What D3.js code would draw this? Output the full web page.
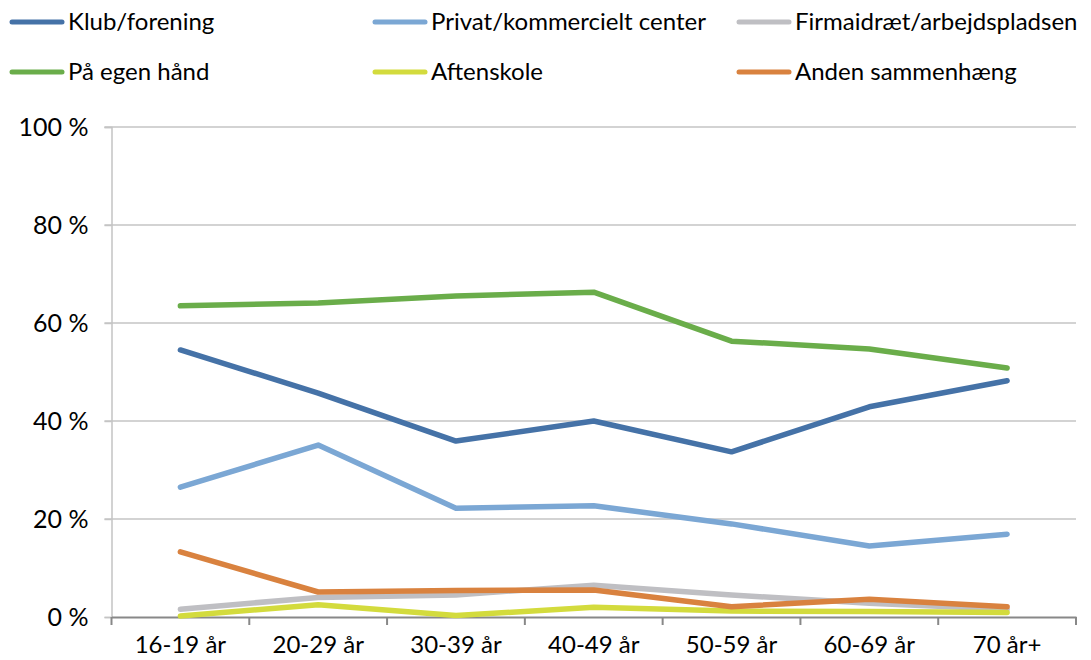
<!DOCTYPE html>
<html>
<head>
<meta charset="utf-8">
<script src="https://cdn.jsdelivr.net/npm/d3@7/dist/d3.min.js"></script>
<style>
  html, body { margin: 0; padding: 0; background: #fff; }
  svg text { font-family: Lato, "Open Sans", sans-serif; fill: #000; }
</style>
</head>
<body>
<svg id="chart" width="1091" height="660"></svg>
<script>
// Age groups along the x axis
const ageGroups = ["16-19 år", "20-29 år", "30-39 år", "40-49 år", "50-59 år", "60-69 år", "70 år+"];

// Share (%) per setting, one array per series
const klubForening      = [54.5, 45.7, 35.9, 40.0, 33.7, 42.9, 48.2];
const privatCenter      = [26.5, 35.1, 22.2, 22.7, 19.0, 14.5, 16.9];
const firmaidraet       = [1.6, 4.0, 4.5, 6.5, 4.5, 2.8, 1.6];
const egenHaand         = [63.5, 64.1, 65.5, 66.3, 56.3, 54.7, 50.8];
const aftenskole        = [0.2, 2.5, 0.3, 2.0, 1.2, 1.1, 0.9];
const andenSammenhaeng  = [13.3, 5.1, 5.4, 5.5, 2.1, 3.6, 2.1];

const seriesNames = ["Klub/forening", "Privat/kommercielt center", "Firmaidræt/arbejdspladsen",
                     "På egen hånd", "Aftenskole", "Anden sammenhæng"];
const seriesValues = [klubForening, privatCenter, firmaidraet, egenHaand, aftenskole, andenSammenhaeng];
const seriesColors = ["#4572a7", "#7ba7d4", "#bfbfc3", "#6aad4a", "#d3db3d", "#d9823f"];

const yTicks = [0, 20, 40, 60, 80, 100];

const svg = d3.select("#chart");
const plot = { left: 111.5, right: 1076, top: 127, bottom: 617 };

const x = d3.scaleBand().domain(ageGroups).range([plot.left, plot.right]);
const y = d3.scaleLinear().domain([0, 100]).range([plot.bottom, plot.top]);

// Horizontal gridlines
svg.append("g").selectAll("line").data(yTicks.filter(d => d > 0)).join("line")
  .attr("x1", plot.left - 7).attr("x2", plot.right)
  .attr("y1", d => y(d)).attr("y2", d => y(d))
  .attr("stroke", "#c4c4c4").attr("stroke-width", 1.5);

// Y axis
const yAxis = svg.append("g").attr("transform", `translate(${plot.left},0)`)
  .call(d3.axisLeft(y).tickValues(yTicks).tickSize(7).tickFormat(d => d + " %").tickPadding(16));
yAxis.select(".domain").attr("stroke", "#c4c4c4").attr("stroke-width", 1.5);
yAxis.selectAll(".tick line").attr("stroke", "#c4c4c4").attr("stroke-width", 1.5);
yAxis.selectAll(".tick text").attr("font-size", 25).attr("font-family", "Lato, sans-serif").attr("fill", "#000");

// X axis with tick marks at band boundaries
const xAxis = svg.append("g").attr("transform", `translate(0,${plot.bottom})`)
  .call(d3.axisBottom(x).tickSize(0).tickPadding(19));
xAxis.select(".domain").attr("stroke", "#888").attr("stroke-width", 2);
xAxis.selectAll(".tick text").attr("font-size", 24).attr("font-family", "Lato, sans-serif").attr("fill", "#000");
const bounds = ageGroups.map(d => x(d)).concat([x(ageGroups[ageGroups.length - 1]) + x.bandwidth()]);
xAxis.append("g").selectAll("line").data(bounds).join("line")
  .attr("x1", d => d).attr("x2", d => d).attr("y1", 0).attr("y2", 8)
  .attr("stroke", "#888").attr("stroke-width", 2);

// Series lines
const line = d3.line()
  .x((d, i) => x(ageGroups[i]) + x.bandwidth() / 2)
  .y(d => y(d));

svg.append("g").selectAll("path").data(seriesValues).join("path")
  .attr("d", d => line(d))
  .attr("fill", "none")
  .attr("stroke", (d, i) => seriesColors[i])
  .attr("stroke-width", 5.5)
  .attr("stroke-linecap", "round")
  .attr("stroke-linejoin", "round");

// Legend: three columns, two rows
const legendCols = [10, 373, 737];
const legendRows = [22, 72];
const legend = svg.append("g").selectAll("g").data(seriesNames).join("g")
  .attr("transform", (d, i) => `translate(${legendCols[i % 3]},${legendRows[Math.floor(i / 3)]})`);
legend.append("line")
  .attr("x1", 2).attr("x2", 52).attr("y1", 0).attr("y2", 0)
  .attr("stroke", (d, i) => seriesColors[i])
  .attr("stroke-width", 5).attr("stroke-linecap", "round");
legend.append("text")
  .attr("x", 58).attr("y", 0).attr("dy", "0.35em")
  .attr("font-size", 24)
  .text(d => d);
</script>
</body>
</html>
